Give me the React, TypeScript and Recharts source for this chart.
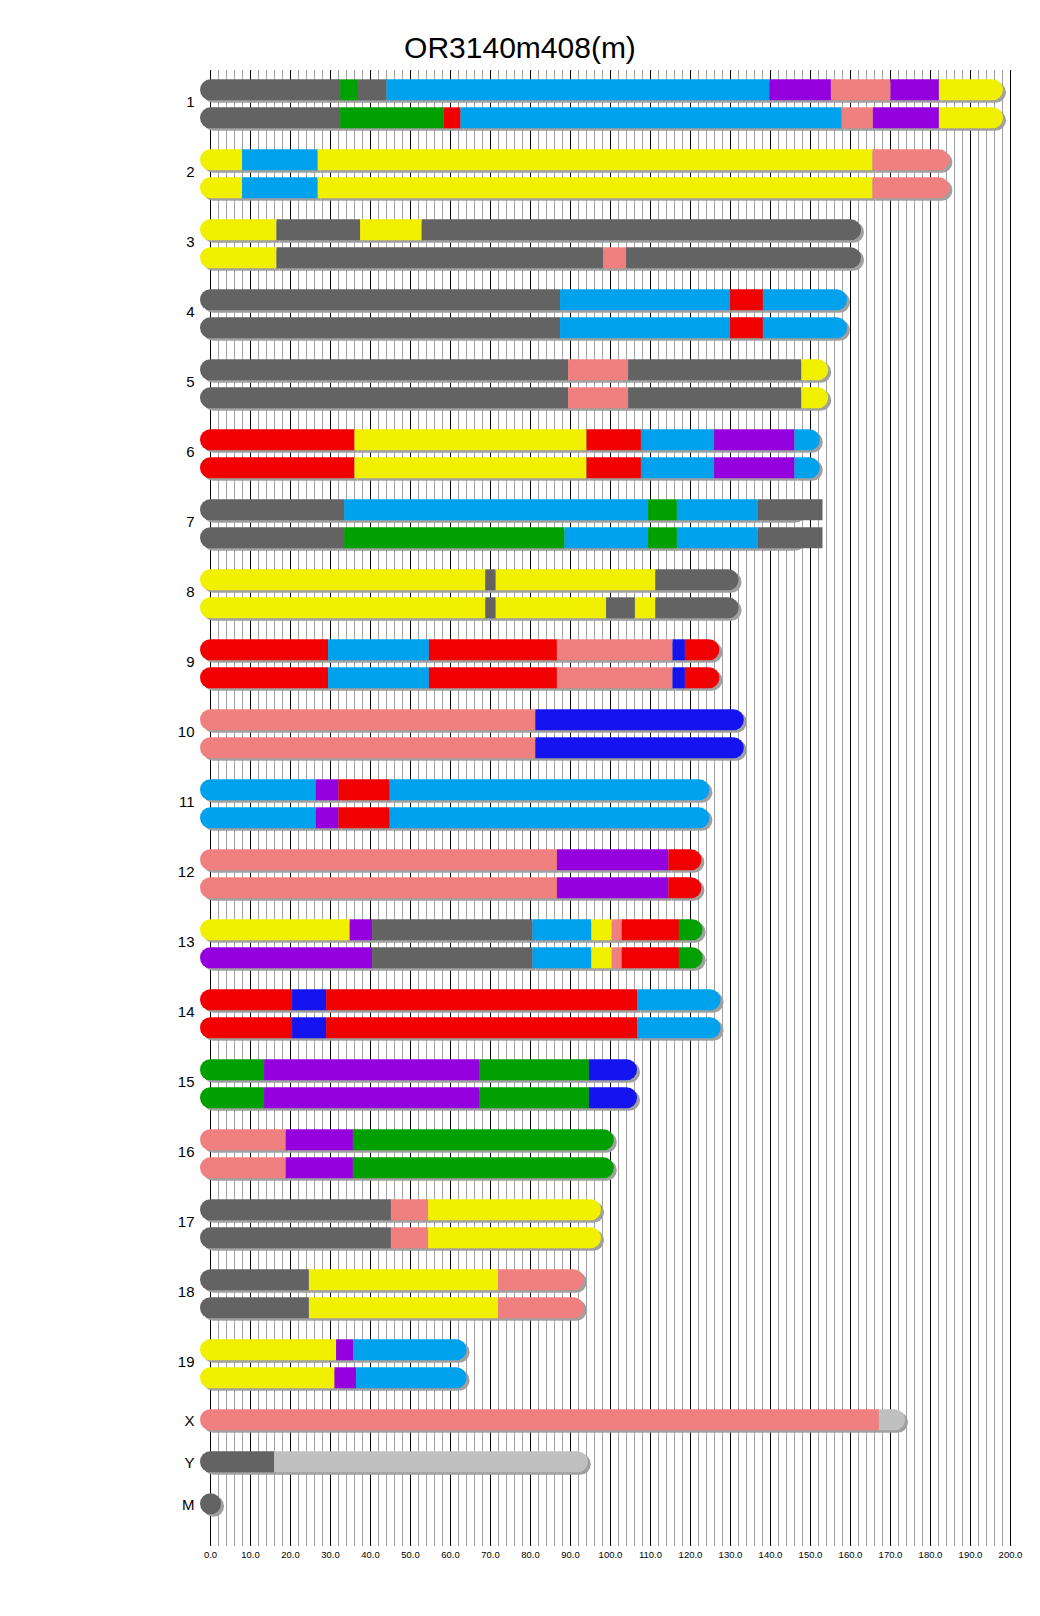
import React from "react";
import { BarChart, Bar, XAxis, YAxis, CartesianGrid } from "recharts";

// chromosome names and lengths (Mb)
const CHROMS = ["1", "2", "3", "4", "5", "6", "7", "8", "9", "10", "11", "12", "13", "14", "15", "16", "17", "18", "19", "X", "Y", "M"];
const CHROM_LEN = [195.5, 182.1, 160.0, 156.5, 151.8, 149.7, 145.4, 129.4, 124.6, 130.7, 122.1, 120.1, 120.4, 124.9, 104.0, 98.2, 95.0, 90.7, 61.4, 171.0, 91.7, 0.02];

// haplotype blocks, "colour:end(Mb)" from left to right
const HAP_A = [
  "K:32.4 G:36.9 K:44.0 B:139.7 P:155.1 S:170.0 P:182.1 Y:195.5",
  "Y:7.9 B:26.8 Y:165.5 S:182.1",
  "Y:16.5 K:37.4 Y:52.8 K:160.0",
  "K:87.4 B:129.9 R:138.1 B:156.5",
  "K:89.4 S:104.4 K:147.7 Y:151.8",
  "R:36.0 Y:94.0 R:107.6 B:125.9 P:146.0 B:149.7",
  "K:33.4 B:109.4 G:116.6 B:136.8 K:153.0",
  "Y:68.7 K:71.3 Y:111.2 K:129.4",
  "R:29.4 B:54.6 R:86.6 S:115.5 N:118.6 R:124.6",
  "S:81.2 N:130.7",
  "B:26.3 P:32.0 R:44.8 B:122.1",
  "S:86.6 P:114.5 R:120.1",
  "Y:34.8 P:40.4 K:80.5 B:95.2 Y:100.3 S:102.8 R:117.1 G:120.4",
  "R:20.4 N:28.9 R:106.7 B:124.9",
  "G:13.4 P:67.3 G:94.6 N:104.0",
  "S:18.8 P:35.6 G:98.2",
  "K:45.1 S:54.4 Y:95.0",
  "K:24.6 Y:71.9 S:90.7",
  "Y:31.4 P:35.7 B:61.4",
  "S:167.1 L:171.0",
  "K:15.9 L:91.7",
  "K:0.02",
];

const HAP_B = [
  "K:32.4 G:58.3 R:62.5 B:157.8 S:165.6 P:182.1 Y:195.5",
  "Y:7.9 B:26.8 Y:165.5 S:182.1",
  "Y:16.5 K:98.2 S:103.9 K:160.0",
  "K:87.4 B:129.9 R:138.1 B:156.5",
  "K:89.4 S:104.4 K:147.7 Y:151.8",
  "R:36.0 Y:94.0 R:107.6 B:125.9 P:146.0 B:149.7",
  "K:33.4 G:88.5 B:109.4 G:116.6 B:136.8 K:153.0",
  "Y:68.7 K:71.3 Y:98.9 K:106.1 Y:111.2 K:129.4",
  "R:29.4 B:54.6 R:86.6 S:115.5 N:118.6 R:124.6",
  "S:81.2 N:130.7",
  "B:26.3 P:32.0 R:44.8 B:122.1",
  "S:86.6 P:114.5 R:120.1",
  "P:40.4 K:80.5 B:95.2 Y:100.3 S:102.8 R:117.1 G:120.4",
  "R:20.4 N:28.9 R:106.7 B:124.9",
  "G:13.4 P:67.3 G:94.6 N:104.0",
  "S:18.8 P:35.6 G:98.2",
  "K:45.1 S:54.4 Y:95.0",
  "K:24.6 Y:71.9 S:90.7",
  "Y:31.0 P:36.4 B:61.4",
  "",
  "",
  "",
];

const X_DOMAIN = [0, 200];
const X_TICKS = Array.from({ length: 21 }, (_, i) => i * 10);
const GRID_TICKS = Array.from({ length: 101 }, (_, i) => i * 2);

const COLORS: Record<string, string> = {
  K: "#636363",
  G: "#00a000",
  B: "#00a2ee",
  P: "#9400de",
  S: "#f08080",
  Y: "#f0f000",
  R: "#f00000",
  N: "#1414f0",
  L: "#c0c0c0",
};

// row slots: pair of haplotypes per autosome, X/Y/M single
const rows: any[] = [];
const labelAt = new Map<number, string>();
CHROMS.forEach((name, i) => {
  const base = i < 19 ? 5 * i : 95 + 3 * (i - 19);
  labelAt.set(i < 19 ? base + 0.8 : base, name);
  [HAP_A[i], HAP_B[i]].filter(Boolean).forEach((h, j) => {
    const row: any = { pos: base + 2 * j, len: CHROM_LEN[i] };
    let start = 0;
    const segs = h.split(" ");
    segs.forEach((t, k) => {
      const [c, e] = t.split(":");
      const end = parseFloat(e);
      row[`s${k}`] = end - start;
      row[`b${k}`] = start;
      row[`e${k}`] = end;
      row[`c${k}`] = COLORS[c];
      start = end;
    });
    row.n = segs.length;
    rows.push(row);
  });
});
const maxSeg = Math.max(...rows.map((r) => r.n));
rows.forEach((r) => {
  for (let k = r.n; k < maxSeg; k++) r[`s${k}`] = 0;
});
const LABEL_TICKS = Array.from(labelAt.keys());

function pill(x0: number, x1: number, y: number, h: number, capL: boolean, capR: boolean) {
  const r = h / 2;
  let d = `M${x0},${y}L${x1},${y}`;
  d += capR ? `A${r},${r} 0 0 1 ${x1},${y + h}` : `L${x1},${y + h}`;
  d += `L${x0},${y + h}`;
  d += capL ? `A${r},${r} 0 0 1 ${x0},${y}` : "";
  return d + "Z";
}

function Block(props: any) {
  const { x, y, width, height, payload, k } = props;
  if (!payload || k >= payload.n) return null;
  const first = k === 0;
  const last = k === payload.n - 1;
  const start = payload[`b${k}`];
  const end = payload[`e${k}`];
  const over = last && end > payload.len + 0.5;
  const x1 = x + width;
  const shadowEnd = over ? x + (width * (payload.len - start)) / (end - start) : x1;
  return (
    <g>
      <path d={pill(x, shadowEnd, y, height, first, last)} fill="#a0a0a0" transform="translate(3,2.5)" />
      <path d={pill(x, x1, y, height, first, last && !over)} fill={payload[`c${k}`]} />
    </g>
  );
}

// minor grid every 2 Mb, placed with the x axis scale when it is callable
const minorGrid = (args: any) => {
  const { xAxis, offset } = args || {};
  const sc = xAxis && xAxis.scale;
  const linear = (v: number) =>
    offset.left + (offset.width * (v - X_DOMAIN[0])) / (X_DOMAIN[1] - X_DOMAIN[0]);
  return GRID_TICKS.map((v) => {
    let px: any = NaN;
    try {
      if (typeof sc === "function") px = sc(v);
      else if (sc && typeof sc.map === "function") px = sc.map(v);
    } catch (e) {
      px = NaN;
    }
    return typeof px === "number" && isFinite(px) ? px : linear(v);
  });
};

export default function App() {
  const font = '"Liberation Sans", Arial, sans-serif';
  return (
    <div style={{ position: "absolute", left: 0, top: 0, width: 1040, height: 1616, background: "#fff", fontFamily: font }}>
      <div
        style={{
          position: "absolute",
          left: 0,
          top: 33,
          width: 1040,
          textAlign: "center",
          fontSize: 30,
          lineHeight: "30px",
          color: "#000",
          zIndex: 1,
        }}
      >
        OR3140m408(m)
      </div>
      <BarChart
        width={1040}
        height={1616}
        data={rows}
        layout="vertical"
        barSize={21}
        margin={{ top: 70, right: 29.5, bottom: 50, left: 0.5 }}
        style={{ position: "absolute", left: 0, top: 0 }}
      >
        <CartesianGrid
          horizontal={false}
          stroke="#a0a0a0"
          strokeWidth={1}
          verticalCoordinatesGenerator={minorGrid}
        />
        <CartesianGrid horizontal={false} stroke="#000" strokeWidth={1} />
        <XAxis
          type="number"
          domain={X_DOMAIN}
          ticks={X_TICKS}
          interval={0}
          height={20}
          axisLine={false}
          tickLine={false}
          tickSize={4}
          tickMargin={1}
          tickFormatter={(v: number) => v.toFixed(1)}
          tick={{ fontSize: 9.5, fill: "#000", fontFamily: font }}
        />
        <YAxis
          type="number"
          dataKey="pos"
          domain={[-1.45, 103.98]}
          ticks={LABEL_TICKS}
          interval={0}
          width={210}
          axisLine={false}
          tickLine={false}
          tickSize={6}
          tickMargin={10}
          tickFormatter={(v: number) => labelAt.get(v) ?? ""}
          tick={{ fontSize: 15, fill: "#000", fontFamily: font }}
        />
        {Array.from({ length: maxSeg }, (_, k) => (
          <Bar
            key={k}
            dataKey={`s${k}`}
            stackId="hap"
            isAnimationActive={false}
            shape={(p: any) => <Block {...p} k={k} />}
          />
        ))}
      </BarChart>
    </div>
  );
}
